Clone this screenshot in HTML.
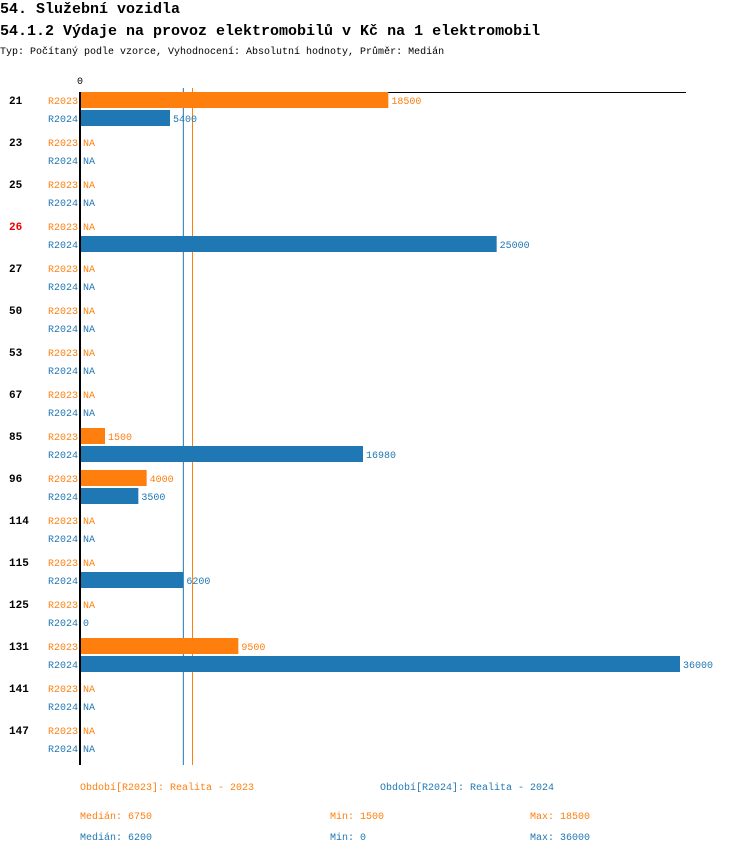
<!DOCTYPE html>
<html><head><meta charset="utf-8"><style>
body{margin:0;background:#fff;}
svg text{font-family:"Liberation Mono","DejaVu Sans Mono",monospace;}
</style></head><body>
<svg id="c" width="750" height="854" xmlns="http://www.w3.org/2000/svg">
<text x="0" y="13" font-size="15" font-weight="bold">54. Služební vozidla</text>
<text x="0" y="35" font-size="15" font-weight="bold">54.1.2 Výdaje na provoz elektromobilů v Kč na 1 elektromobil</text>
<text x="0" y="54" font-size="10">Typ: Počítaný podle vzorce, Vyhodnocení: Absolutní hodnoty, Průměr: Medián</text>
<g id="plot"></g>
<g id="footer" font-size="10">
<text x="80" y="790" fill="#ff7f0e">Období[R2023]: Realita - 2023</text>
<text x="380" y="790" fill="#1f77b4">Období[R2024]: Realita - 2024</text>
<text x="80" y="819" fill="#ff7f0e">Medián: 6750</text>
<text x="330" y="819" fill="#ff7f0e">Min: 1500</text>
<text x="530" y="819" fill="#ff7f0e">Max: 18500</text>
<text x="80" y="840" fill="#1f77b4">Medián: 6200</text>
<text x="330" y="840" fill="#1f77b4">Min: 0</text>
<text x="530" y="840" fill="#1f77b4">Max: 36000</text>
</g>
</svg>
<script>
const categories=["21","23","25","26","27","50","53","67","85","96","114","115","125","131","141","147"];
const highlighted=["26"];
const r2023=[18500,null,null,null,null,null,null,null,1500,4000,null,null,null,9500,null,null];
const r2024=[5400,null,null,25000,null,null,null,null,16980,3500,null,6200,0,36000,null,null];
const medians=[6750,6200];
const maxValue=36000;
const NS="http://www.w3.org/2000/svg";
const g=document.getElementById('plot');
const x0=80,x1=680,top0=92,groupH=42;
const xs=v=>x0+v/maxValue*(x1-x0);
const C=['#ff7f0e','#1f77b4'];
function mk(t,a){const e=document.createElementNS(NS,t);for(const k in a)e.setAttribute(k,a[k]);g.appendChild(e);return e;}
medians.forEach((m,s)=>{
  const ml=mk('line',{x1:xs(m),y1:88,x2:xs(m),y2:765,stroke:C[s],'stroke-width':1});
  
  
});
let l=mk('line',{x1:x0,y1:92.5,x2:686,y2:92.5,stroke:'#000','stroke-width':1});


let z=mk('text',{x:x0,y:84,'font-size':10,'text-anchor':'middle'});z.textContent='0';


categories.forEach((c,i)=>{
  const y=top0+i*groupH;
  const t=mk('text',{x:9,y:y+12,'font-size':11,'font-weight':'bold',fill:highlighted.includes(c)?'#e00':'#000'});
  t.textContent=c;
  
  
  [r2023[i],r2024[i]].forEach((v,s)=>{
    const yy=y+s*18;
    const lb=mk('text',{x:78,y:yy+12,'font-size':10,'text-anchor':'end',fill:C[s]});
    lb.textContent=s?'R2024':'R2023';
    
    
    let end=x0;
    if(v!==null&&v>0){
      const b=mk('rect',{x:x0,y:yy,width:xs(v)-x0,height:16,fill:C[s]});
      
      
      end=xs(v);
    }
    const vt=mk('text',{x:end+3,y:yy+12,'font-size':10,fill:C[s]});
    vt.textContent=v===null?'NA':String(v);
    
    
  });
});
const ax=mk('line',{x1:x0,y1:92,x2:x0,y2:765,stroke:'#000','stroke-width':2});


</script>
</body></html>
